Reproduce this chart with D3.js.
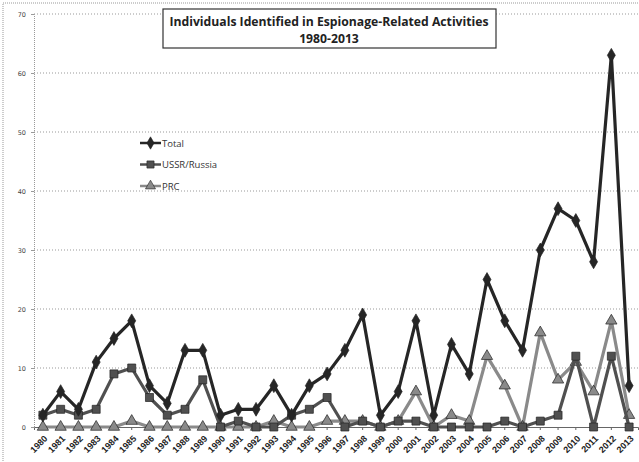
<!DOCTYPE html>
<html>
<head>
<meta charset="utf-8">
<script src="https://cdn.jsdelivr.net/npm/d3@7"></script>
<style>
body { margin: 0; background: #fff; }
svg { font-family: "Open Sans", "Liberation Sans", sans-serif; }
.grid line { stroke: #999; stroke-dasharray: 1,2; }
</style>
</head>
<body>
<svg width="639" height="462"></svg>
<script>
const years = d3.range(1980, 2014).map(String);
const total = [2, 6, 3, 11, 15, 18, 7, 4, 13, 13, 2, 3, 3, 7, 2, 7, 9, 13, 19, 2, 6, 18, 2, 14, 9, 25, 18, 13, 30, 37, 35, 28, 63, 7];
const ussr = [2, 3, 2, 3, 9, 10, 5, 2, 3, 8, 0, 1, 0, 0, 2, 3, 5, 0, 1, 0, 1, 1, 0, 0, 0, 0, 1, 0, 1, 2, 12, 0, 12, 0];
const prc = [0, 0, 0, 0, 0, 1, 0, 0, 0, 0, 0, 0, 0, 1, 0, 0, 1, 1, 1, 0, 1, 6, 0, 2, 1, 12, 7, 0, 16, 8, 11, 6, 18, 2];
const yTicks = [0, 10, 20, 30, 40, 50, 60, 70];

const series = [
    { name: "Total", values: total, color: "#262626", symbol: d3.symbolDiamond, size: 55 },
    { name: "USSR/Russia", values: ussr, color: "#505050", symbol: d3.symbolSquare, size: 64 },
    { name: "PRC", values: prc, color: "#8a8a8a", symbol: d3.symbolTriangle, size: 55 }
];

const svg = d3.select("svg");
const plotLeft = 34, plotRight = 638, plotTop = 14, plotBottom = 427;

const x = d3.scaleBand().domain(years).range([plotLeft, plotRight]);
const y = d3.scaleLinear().domain([0, 70]).range([plotBottom, plotTop]);

// chart border
svg.append("rect")
    .attr("x", 3).attr("y", 3).attr("width", 640).attr("height", 470)
    .attr("fill", "none").attr("stroke", "#999").attr("stroke-dasharray", "1,1");

// gridlines
svg.append("g").attr("class", "grid")
    .selectAll("line")
    .data(yTicks.slice(1))
    .enter()
    .append("line")
    .attr("x1", plotLeft).attr("x2", plotRight)
    .attr("y1", d => y(d)).attr("y2", d => y(d));

// y axis
const yAxis = svg.append("g")
    .attr("transform", `translate(${plotLeft},0)`)
    .call(d3.axisLeft(y).tickValues(yTicks).tickSize(3));
yAxis.select(".domain").attr("stroke", "#999").attr("stroke-dasharray", "1,1");
yAxis.selectAll(".tick line").attr("stroke", "#999");
yAxis.selectAll("text")
    .attr("font-family", "DejaVu Sans")
    .attr("font-size", 6.5).attr("fill", "#444").attr("x", -8);

// x axis, labels slanted down-left from each tick
const xAxis = svg.append("g")
    .attr("transform", `translate(0,${plotBottom})`)
    .call(d3.axisBottom(x).tickSize(3));
xAxis.select(".domain").attr("stroke", "#666");
xAxis.selectAll(".tick line").attr("stroke", "#666");
xAxis.selectAll("text")
    .attr("font-size", 9)
    .attr("font-weight", 600)
    .attr("fill", "#222")
    .attr("text-anchor", "end")
    .attr("x", 0).attr("y", 0)
    .attr("dy", "0.35em")
    .attr("transform", "translate(3,10) rotate(-45)");

const line = d3.line()
    .x((d, i) => x(years[i]) + x.bandwidth() / 2)
    .y(d => y(d));

// draw PRC first so Total lies on top
series.slice().reverse().forEach(s => {
    const g = svg.append("g");
    g.append("path")
        .datum(s.values)
        .attr("d", line)
        .attr("fill", "none")
        .attr("stroke", s.color)
        .attr("stroke-width", 3.2)
        .attr("stroke-linejoin", "round");
    g.selectAll("path.m")
        .data(s.values)
        .enter()
        .append("path")
        .attr("class", "m")
        .attr("transform", (d, i) => `translate(${x(years[i]) + x.bandwidth() / 2},${y(d)})`)
        .attr("d", d3.symbol().type(s.symbol).size(s.size))
        .attr("fill", s.color)
        .attr("stroke", "#222")
        .attr("stroke-width", 0.7);
});

// title box
svg.append("rect")
    .attr("x", 163).attr("y", 9).attr("width", 333).attr("height", 39)
    .attr("fill", "#fff").attr("stroke", "#333").attr("stroke-width", 1.2);
svg.append("text")
    .attr("x", 329).attr("y", 26)
    .attr("text-anchor", "middle")
    .attr("font-size", 12.2).attr("font-weight", "bold").attr("fill", "#222")
    .text("Individuals Identified in Espionage-Related Activities");
svg.append("text")
    .attr("x", 329).attr("y", 43)
    .attr("text-anchor", "middle")
    .attr("font-size", 12.2).attr("font-weight", "bold").attr("fill", "#222")
    .text("1980-2013");

// legend
const legend = svg.append("g");
series.forEach((s, i) => {
    const ly = 143 + i * 21.5;
    legend.append("line")
        .attr("x1", 140).attr("x2", 161).attr("y1", ly).attr("y2", ly)
        .attr("stroke", s.color).attr("stroke-width", 2.5);
    legend.append("path")
        .attr("transform", `translate(150.5,${ly})`)
        .attr("d", d3.symbol().type(s.symbol).size(s.size * 0.8))
        .attr("fill", s.color).attr("stroke", "#222").attr("stroke-width", 0.6);
    legend.append("text")
        .attr("x", 162).attr("y", ly + 3.5)
        .attr("font-size", 9.5).attr("fill", "#333")
        .text(s.name);
});
</script>
</body>
</html>
